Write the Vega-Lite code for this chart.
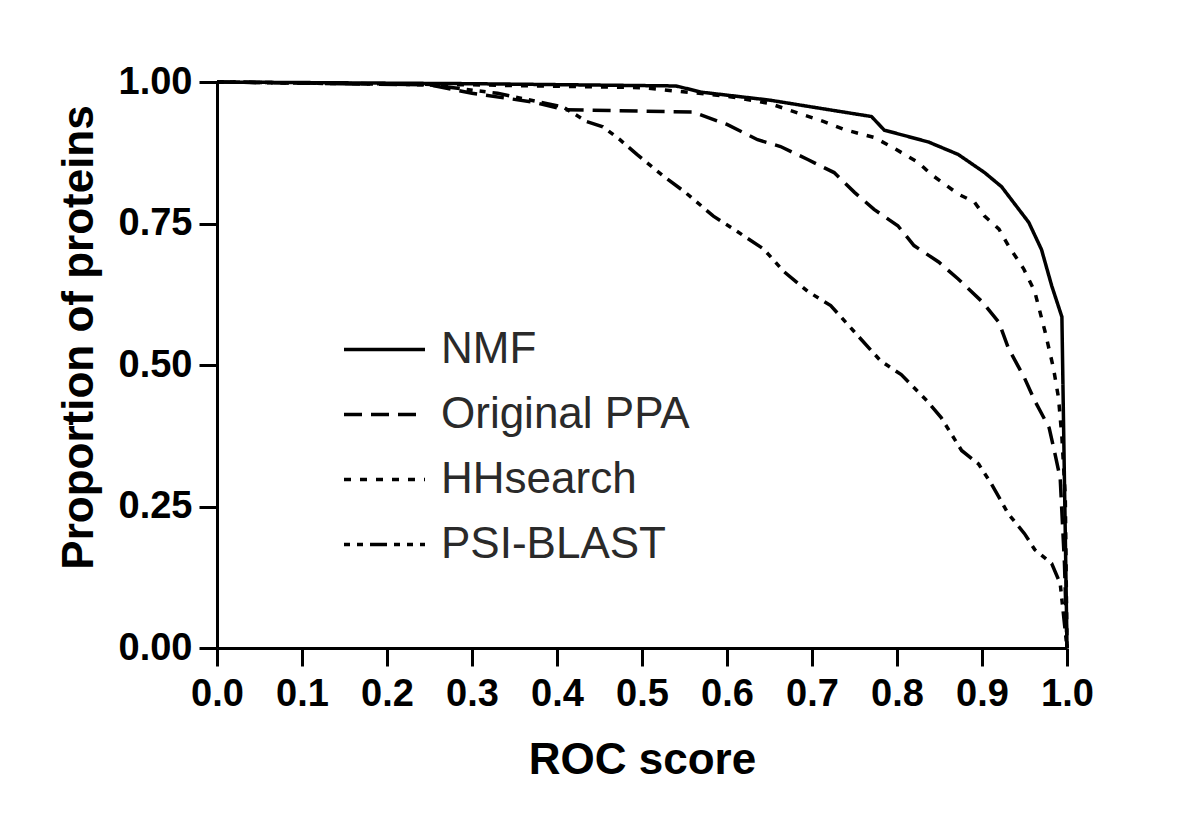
{
  "$schema": "https://vega.github.io/schema/vega-lite/v6.json",
  "autosize": {"type": "none"},
  "padding": {"left": 217, "top": 82, "right": 133, "bottom": 183},
  "width": 850,
  "height": 566,
  "background": "white",
  "config": {"view": {"stroke": null}},
  "data": {"values": [
    {"method": "NMF", "roc": 0, "prop": 1},
    {"method": "NMF", "roc": 0.3, "prop": 0.997},
    {"method": "NMF", "roc": 0.54, "prop": 0.993},
    {"method": "NMF", "roc": 0.57, "prop": 0.982},
    {"method": "NMF", "roc": 0.65, "prop": 0.968},
    {"method": "NMF", "roc": 0.72, "prop": 0.951},
    {"method": "NMF", "roc": 0.77, "prop": 0.939},
    {"method": "NMF", "roc": 0.785, "prop": 0.915},
    {"method": "NMF", "roc": 0.837, "prop": 0.894},
    {"method": "NMF", "roc": 0.872, "prop": 0.872},
    {"method": "NMF", "roc": 0.903, "prop": 0.84},
    {"method": "NMF", "roc": 0.923, "prop": 0.815},
    {"method": "NMF", "roc": 0.955, "prop": 0.752},
    {"method": "NMF", "roc": 0.97, "prop": 0.704},
    {"method": "NMF", "roc": 0.982, "prop": 0.64},
    {"method": "NMF", "roc": 0.994, "prop": 0.585},
    {"method": "NMF", "roc": 0.996, "prop": 0.39},
    {"method": "NMF", "roc": 0.998, "prop": 0.2},
    {"method": "NMF", "roc": 1.0, "prop": 0},
    {"method": "Original PPA", "roc": 0, "prop": 1},
    {"method": "Original PPA", "roc": 0.25, "prop": 0.995},
    {"method": "Original PPA", "roc": 0.3, "prop": 0.98},
    {"method": "Original PPA", "roc": 0.37, "prop": 0.965},
    {"method": "Original PPA", "roc": 0.41, "prop": 0.951},
    {"method": "Original PPA", "roc": 0.56, "prop": 0.947},
    {"method": "Original PPA", "roc": 0.6, "prop": 0.925},
    {"method": "Original PPA", "roc": 0.636, "prop": 0.898},
    {"method": "Original PPA", "roc": 0.663, "prop": 0.886},
    {"method": "Original PPA", "roc": 0.695, "prop": 0.863},
    {"method": "Original PPA", "roc": 0.726, "prop": 0.84},
    {"method": "Original PPA", "roc": 0.75, "prop": 0.805},
    {"method": "Original PPA", "roc": 0.773, "prop": 0.775},
    {"method": "Original PPA", "roc": 0.801, "prop": 0.746},
    {"method": "Original PPA", "roc": 0.82, "prop": 0.711},
    {"method": "Original PPA", "roc": 0.849, "prop": 0.682},
    {"method": "Original PPA", "roc": 0.872, "prop": 0.652},
    {"method": "Original PPA", "roc": 0.9, "prop": 0.612},
    {"method": "Original PPA", "roc": 0.92, "prop": 0.575},
    {"method": "Original PPA", "roc": 0.931, "prop": 0.53},
    {"method": "Original PPA", "roc": 0.95, "prop": 0.477},
    {"method": "Original PPA", "roc": 0.962, "prop": 0.437},
    {"method": "Original PPA", "roc": 0.979, "prop": 0.389},
    {"method": "Original PPA", "roc": 0.986, "prop": 0.342},
    {"method": "Original PPA", "roc": 0.992, "prop": 0.3},
    {"method": "Original PPA", "roc": 0.997, "prop": 0.15},
    {"method": "Original PPA", "roc": 1.0, "prop": 0},
    {"method": "HHsearch", "roc": 0, "prop": 1},
    {"method": "HHsearch", "roc": 0.3, "prop": 0.995},
    {"method": "HHsearch", "roc": 0.5, "prop": 0.99},
    {"method": "HHsearch", "roc": 0.6, "prop": 0.975},
    {"method": "HHsearch", "roc": 0.65, "prop": 0.962},
    {"method": "HHsearch", "roc": 0.714, "prop": 0.93},
    {"method": "HHsearch", "roc": 0.738, "prop": 0.916},
    {"method": "HHsearch", "roc": 0.773, "prop": 0.902},
    {"method": "HHsearch", "roc": 0.793, "prop": 0.886},
    {"method": "HHsearch", "roc": 0.825, "prop": 0.858},
    {"method": "HHsearch", "roc": 0.84, "prop": 0.837},
    {"method": "HHsearch", "roc": 0.872, "prop": 0.802},
    {"method": "HHsearch", "roc": 0.891, "prop": 0.788},
    {"method": "HHsearch", "roc": 0.903, "prop": 0.763},
    {"method": "HHsearch", "roc": 0.92, "prop": 0.74},
    {"method": "HHsearch", "roc": 0.931, "prop": 0.711},
    {"method": "HHsearch", "roc": 0.949, "prop": 0.67},
    {"method": "HHsearch", "roc": 0.962, "prop": 0.63},
    {"method": "HHsearch", "roc": 0.974, "prop": 0.56},
    {"method": "HHsearch", "roc": 0.984, "prop": 0.495},
    {"method": "HHsearch", "roc": 0.99, "prop": 0.442},
    {"method": "HHsearch", "roc": 0.994, "prop": 0.372},
    {"method": "HHsearch", "roc": 0.998, "prop": 0.267},
    {"method": "HHsearch", "roc": 1.0, "prop": 0},
    {"method": "PSI-BLAST", "roc": 0, "prop": 1},
    {"method": "PSI-BLAST", "roc": 0.25, "prop": 0.995},
    {"method": "PSI-BLAST", "roc": 0.33, "prop": 0.98},
    {"method": "PSI-BLAST", "roc": 0.407, "prop": 0.956},
    {"method": "PSI-BLAST", "roc": 0.435, "prop": 0.93},
    {"method": "PSI-BLAST", "roc": 0.454, "prop": 0.921},
    {"method": "PSI-BLAST", "roc": 0.474, "prop": 0.898},
    {"method": "PSI-BLAST", "roc": 0.494, "prop": 0.872},
    {"method": "PSI-BLAST", "roc": 0.525, "prop": 0.834},
    {"method": "PSI-BLAST", "roc": 0.551, "prop": 0.805},
    {"method": "PSI-BLAST", "roc": 0.584, "prop": 0.763},
    {"method": "PSI-BLAST", "roc": 0.608, "prop": 0.74},
    {"method": "PSI-BLAST", "roc": 0.643, "prop": 0.705},
    {"method": "PSI-BLAST", "roc": 0.667, "prop": 0.665},
    {"method": "PSI-BLAST", "roc": 0.695, "prop": 0.63},
    {"method": "PSI-BLAST", "roc": 0.722, "prop": 0.605},
    {"method": "PSI-BLAST", "roc": 0.749, "prop": 0.56},
    {"method": "PSI-BLAST", "roc": 0.77, "prop": 0.525},
    {"method": "PSI-BLAST", "roc": 0.781, "prop": 0.507},
    {"method": "PSI-BLAST", "roc": 0.805, "prop": 0.483},
    {"method": "PSI-BLAST", "roc": 0.835, "prop": 0.437},
    {"method": "PSI-BLAST", "roc": 0.852, "prop": 0.407},
    {"method": "PSI-BLAST", "roc": 0.876, "prop": 0.349},
    {"method": "PSI-BLAST", "roc": 0.896, "prop": 0.325},
    {"method": "PSI-BLAST", "roc": 0.911, "prop": 0.29},
    {"method": "PSI-BLAST", "roc": 0.931, "prop": 0.237},
    {"method": "PSI-BLAST", "roc": 0.95, "prop": 0.202},
    {"method": "PSI-BLAST", "roc": 0.962, "prop": 0.174},
    {"method": "PSI-BLAST", "roc": 0.982, "prop": 0.149},
    {"method": "PSI-BLAST", "roc": 0.992, "prop": 0.114},
    {"method": "PSI-BLAST", "roc": 1.0, "prop": 0}
  ]},
  "mark": {"type": "line", "color": "black", "strokeWidth": 3.5, "strokeCap": "butt"},
  "encoding": {
    "x": {
      "field": "roc", "type": "quantitative",
      "scale": {"domain": [0, 1], "nice": false, "zero": false},
      "axis": {
        "title": "ROC score",
        "values": [0, 0.1, 0.2, 0.3, 0.4, 0.5, 0.6, 0.7, 0.8, 0.9, 1.0],
        "format": ".1f",
        "grid": false,
        "domainColor": "black", "domainWidth": 3,
        "tickColor": "black", "tickWidth": 3, "tickSize": 18,
        "labelFont": "Liberation Sans", "labelFontWeight": "bold", "labelFontSize": 38, "labelColor": "black",
        "labelBaseline": "top", "labelPadding": 9, "labelFlush": false, "labelOverlap": false,
        "titleFont": "Liberation Sans", "titleFontWeight": "bold", "titleFontSize": 44, "titleColor": "black",
        "titleBaseline": "alphabetic", "titleY": 125
      }
    },
    "y": {
      "field": "prop", "type": "quantitative",
      "scale": {"domain": [0, 1], "nice": false, "zero": false},
      "axis": {
        "title": "Proportion of proteins",
        "values": [0, 0.25, 0.5, 0.75, 1.0],
        "format": ".2f",
        "grid": false,
        "domainColor": "black", "domainWidth": 3,
        "tickColor": "black", "tickWidth": 3, "tickSize": 18,
        "labelFont": "Liberation Sans", "labelFontWeight": "bold", "labelFontSize": 38, "labelColor": "black",
        "labelBaseline": "middle", "labelPadding": 7, "labelFlush": false, "labelOverlap": false,
        "titleFont": "Liberation Sans", "titleFontWeight": "bold", "titleFontSize": 44, "titleColor": "black",
        "titleAngle": 270, "titleBaseline": "alphabetic", "titleAlign": "center",
        "titleX": -125, "titleY": 255
      }
    },
    "strokeDash": {
      "field": "method", "type": "nominal",
      "scale": {
        "domain": ["NMF", "Original PPA", "HHsearch", "PSI-BLAST"],
        "range": [[1, 0], [18, 9], [7, 9], [6, 7, 6, 7, 17, 7]]
      },
      "legend": {
        "title": null,
        "orient": "none",
        "legendX": 125,
        "legendY": 225,
        "symbolType": "stroke",
        "symbolSize": 6561,
        "symbolStrokeWidth": 3.5,
        "symbolStrokeColor": "black",
        "labelFont": "Liberation Sans", "labelFontSize": 44, "labelColor": "#2a2a2a",
        "labelOffset": 14,
        "labelLimit": 500,
        "rowPadding": -18
      }
    }
  }
}
